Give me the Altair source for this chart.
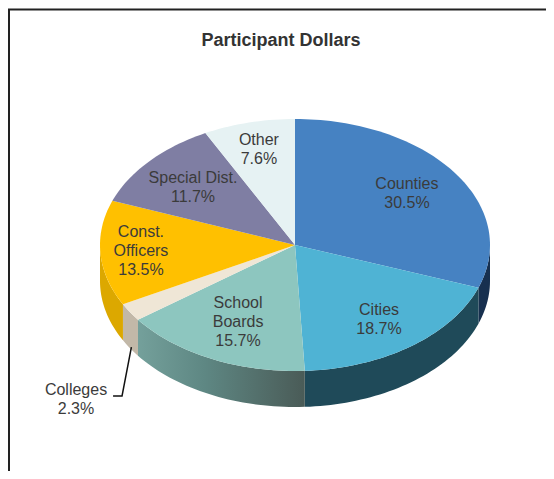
import math
import altair as alt
import pandas as pd

names = ["Counties", "Cities", "School Boards", "Colleges", "Const. Officers", "Special Dist.", "Other"]
shares = [30.5, 18.7, 15.7, 2.3, 13.5, 11.7, 7.6]
top_colors = ["#4682c2", "#4fb3d4", "#8dc6bf", "#efe6d6", "#ffc000", "#7f7ea3", "#e6f2f3"]
wall_colors = ["#17304f", "#1f4a59", "#5d8580", "#c2b8a8", "#dca800", "#555555", "#999999"]
label_text = ["Counties\n30.5%", "Cities\n18.7%", "School\nBoards\n15.7%", "Colleges\n2.3%",
              "Const.\nOfficers\n13.5%", "Special Dist.\n11.7%", "Other\n7.6%"]
# first-line anchors of the labels, in units of the pie's radii from its centre
label_u = [0.574, 0.431, -0.292, -1.123, -0.790, -0.523, -0.185]
label_v = [-0.484, 0.516, 0.460, 1.151, -0.103, -0.532, -0.833]
leader_u = [-0.839, -0.887, -0.933]
leader_v = [0.810, 1.198, 1.198]

W, H = 538, 463
CX, CY, RX, RY, DEPTH = 287, 237, 195, 126, 36
x_dom = [-CX / RX, (W - CX) / RX]
y_dom = [-CY / RY, (H - CY) / RY]
d = DEPTH / RY

top_rows, wall_rows = [], []
acc = 0.0
for name, share in zip(names, shares):
    a0, a1 = acc * 3.6, (acc + share) * 3.6
    acc += share
    n = max(2, int((a1 - a0) / 1.5))
    angles = [a0 + (a1 - a0) * k / n for k in range(n + 1)]
    top_rows.append({"name": name, "i": -1, "u": 0.0, "v": 0.0})
    for k, a in enumerate(angles):
        r = math.radians(a)
        top_rows.append({"name": name, "i": k, "u": math.sin(r), "v": -math.cos(r)})
    w0, w1 = max(a0, 90.0), min(a1, 270.0)
    if w1 > w0:
        m = max(2, int((w1 - w0) / 1.5))
        for k in range(m + 1):
            r = math.radians(w0 + (w1 - w0) * k / m)
            v = -math.cos(r)
            wall_rows.append({"name": name, "u": math.sin(r), "v": v, "v2": v + d})

top = pd.DataFrame(top_rows)
wall = pd.DataFrame(wall_rows)
labels = pd.DataFrame({"u": label_u, "v": label_v, "t": label_text})
leader = pd.DataFrame({"u": leader_u, "v": leader_v, "i": [0, 1, 2]})

x_scale = alt.Scale(domain=x_dom, nice=False, zero=False)
y_scale = alt.Scale(domain=y_dom, range=[0, H], nice=False, zero=False)
X = alt.X("u:Q", scale=x_scale, axis=None)
Y = alt.Y("v:Q", scale=y_scale, axis=None)
Y_low = alt.Y("v2:Q", scale=y_scale, axis=None)
fill_scale = alt.Scale(domain=names, range=wall_colors)
top_scale = alt.Scale(domain=names, range=top_colors)

walls = alt.Chart(wall).transform_filter(alt.datum.name != "School Boards").mark_area().encode(
    x=X, y=Y_low, y2="v:Q",
    fill=alt.Fill("name:N", scale=fill_scale, legend=None), detail="name:N")

gradient = alt.LinearGradient(
    gradient="linear", x1=0, x2=1, y1=0, y2=0,
    stops=[alt.GradientStop(color="#74a09b", offset=0),
           alt.GradientStop(color="#5e8783", offset=0.4),
           alt.GradientStop(color="#4a5b57", offset=1)])
school_wall = alt.Chart(wall).transform_filter(alt.datum.name == "School Boards").mark_area(color=gradient).encode(
    x=X, y=Y_low, y2="v:Q")

tops = alt.Chart(top).mark_line(filled=True, interpolate="linear-closed", strokeWidth=0).encode(
    x=X, y=Y, order="i:Q",
    fill=alt.Fill("name:N", scale=top_scale, legend=None), detail="name:N")

text = alt.Chart(labels).mark_text(font="Liberation Sans", fontSize=16, color="#3b3b3b",
                                   lineBreak="\n", lineHeight=19, align="center", baseline="middle").encode(
    x=X, y=Y, text="t:N")

lead = alt.Chart(leader).mark_line(color="#111111", strokeWidth=1.5).encode(x=X, y=Y, order="i:Q")

frame_top = alt.Chart(pd.DataFrame({"a": [0]})).mark_rule(color="#222222", strokeWidth=2).encode(
    x=alt.value(0), x2=alt.value(W), y=alt.value(1.5))
frame_left = alt.Chart(pd.DataFrame({"a": [0]})).mark_rule(color="#222222", strokeWidth=2).encode(
    x=alt.value(1), y=alt.value(1), y2=alt.value(H))

chart = alt.layer(walls, school_wall, tops, text, lead, frame_top, frame_left).resolve_scale(
    fill="independent"
).properties(
    width=W, height=H, padding=0, autosize=alt.AutoSizeParams(type="none"),
    title=alt.TitleParams("Participant Dollars", font="Liberation Sans", fontSize=18, fontWeight="bold",
                          color="#333333", anchor="middle", frame="group", orient="top", baseline="middle", offset=-51,
                          dx=4)
).configure_view(stroke=None)

chart.save("out.html", embed_options={"renderer": "svg", "actions": False})
